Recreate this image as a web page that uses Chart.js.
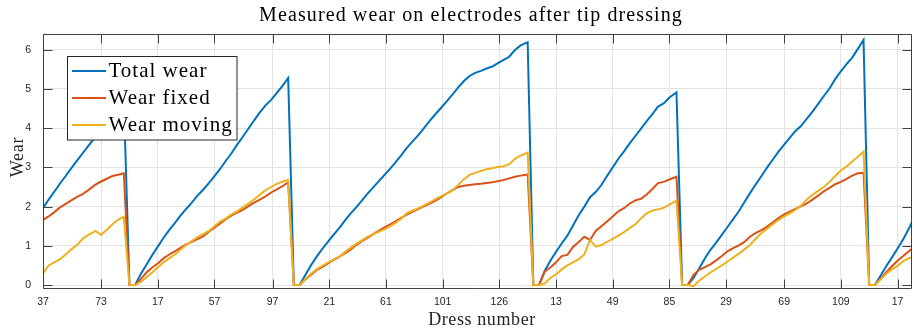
<!DOCTYPE html>
<html>
<head>
<meta charset="utf-8">
<title>Measured wear on electrodes after tip dressing</title>
<script src="https://cdn.jsdelivr.net/npm/chart.js@4/dist/chart.umd.min.js"></script>
<style>
    html, body { margin: 0; padding: 0; background: #fff; }
    #wrap { width: 914px; height: 331px; position: relative; }
</style>
</head>
<body>
<div id="wrap"><canvas id="wearChart"></canvas></div>
<script>
// Position of each sample along the dressing sequence (5 tip dressings + start of a 6th)
const sampleIndex = [
    0, 4, 8, 12, 16, 20, 24, 28, 32, 37, 41, 45, 49, 53, 57, 61,
    65, 69, 73, 77, 81, 85, 89, 93, 97, 101, 105, 109, 113, 117, 121, 125, 129, 133, 137, 141, 145, 149, 153, 157, 161, 165, 169, 173, 177,
    181, 185, 189, 193, 197, 201, 205, 209, 213, 217, 221, 225, 229, 233, 237, 241, 245, 249, 253, 257, 261, 265, 269, 273, 277, 281, 285, 289, 293, 297, 301, 305, 309, 313, 317, 321, 325, 329, 333, 337, 342, 346,
    350, 354, 358, 362, 366, 370, 374, 378, 382, 386, 390, 394, 398, 402, 406, 410, 414, 418, 422, 426, 430, 434, 438, 442, 447, 451,
    455, 459, 463, 467, 471, 475, 479, 483, 487, 491, 495, 499, 503, 507, 511, 515, 519, 523, 527, 531, 535, 539, 543, 547, 551, 555, 559, 563, 567, 571, 575, 579, 583,
    587, 591, 595, 599, 603, 607, 611, 615
];

const totalWear = [
    1.96, 2.18, 2.38, 2.59, 2.78, 2.98, 3.17, 3.36, 3.55, 3.78, 3.98, 4.17, 4.37, 4.56, 4.76, 0,
    0, 0.28, 0.52, 0.76, 0.98, 1.20, 1.40, 1.58, 1.77, 1.94, 2.10, 2.28, 2.43, 2.60, 2.78, 2.96, 3.17, 3.36, 3.58, 3.78, 3.99, 4.20, 4.40, 4.58, 4.72, 4.90, 5.08, 5.28, 0,
    0, 0.25, 0.50, 0.72, 0.92, 1.10, 1.28, 1.45, 1.64, 1.82, 1.98, 2.15, 2.33, 2.49, 2.65, 2.81, 2.97, 3.14, 3.32, 3.51, 3.67, 3.83, 4.01, 4.19, 4.36, 4.52, 4.69, 4.86, 5.04, 5.20, 5.33, 5.41, 5.46, 5.52, 5.57, 5.66, 5.74, 5.82, 5.99, 6.11, 6.19, 0,
    0, 0.36, 0.62, 0.85, 1.06, 1.26, 1.52, 1.78, 2.00, 2.24, 2.37, 2.55, 2.78, 3.00, 3.22, 3.41, 3.61, 3.80, 3.99, 4.18, 4.36, 4.55, 4.63, 4.78, 4.91, 0,
    0, 0.18, 0.42, 0.68, 0.90, 1.08, 1.28, 1.48, 1.68, 1.88, 2.12, 2.35, 2.57, 2.78, 3.00, 3.20, 3.40, 3.58, 3.76, 3.93, 4.06, 4.24, 4.42, 4.62, 4.82, 5.01, 5.25, 5.45, 5.63, 5.80, 6.02, 6.25, 0,
    0, 0.24, 0.48, 0.70, 0.93, 1.17, 1.44, 1.74
];

const wearFixed = [
    1.66, 1.75, 1.86, 1.98, 2.07, 2.16, 2.25, 2.32, 2.42, 2.56, 2.64, 2.71, 2.78, 2.81, 2.85, 0,
    0, 0.15, 0.32, 0.45, 0.55, 0.68, 0.78, 0.86, 0.95, 1.04, 1.10, 1.17, 1.24, 1.36, 1.46, 1.57, 1.68, 1.77, 1.85, 1.92, 2.01, 2.10, 2.18, 2.26, 2.36, 2.44, 2.52, 2.62, 0,
    0, 0.14, 0.26, 0.38, 0.46, 0.55, 0.64, 0.72, 0.81, 0.90, 1.02, 1.12, 1.20, 1.30, 1.39, 1.47, 1.55, 1.63, 1.72, 1.80, 1.87, 1.94, 2.01, 2.08, 2.15, 2.24, 2.34, 2.42, 2.50, 2.53, 2.55, 2.57, 2.58, 2.60, 2.62, 2.65, 2.68, 2.72, 2.76, 2.79, 2.82, 0,
    0, 0.34, 0.45, 0.58, 0.74, 0.77, 0.97, 1.10, 1.23, 1.15, 1.38, 1.50, 1.62, 1.75, 1.88, 1.96, 2.08, 2.16, 2.20, 2.31, 2.45, 2.60, 2.63, 2.69, 2.76, 0,
    0, 0.26, 0.39, 0.46, 0.53, 0.63, 0.74, 0.86, 0.94, 1.01, 1.10, 1.24, 1.33, 1.40, 1.49, 1.60, 1.71, 1.80, 1.87, 1.94, 2.01, 2.08, 2.18, 2.28, 2.39, 2.48, 2.57, 2.63, 2.71, 2.79, 2.85, 2.86, 0,
    0, 0.16, 0.33, 0.48, 0.62, 0.74, 0.86, 0.98
];

const wearMoving = [
    0.30, 0.50, 0.58, 0.66, 0.78, 0.91, 1.02, 1.18, 1.28, 1.38, 1.28, 1.41, 1.55, 1.67, 1.74, 0,
    0, 0.08, 0.20, 0.32, 0.45, 0.58, 0.68, 0.78, 0.90, 1.02, 1.12, 1.22, 1.30, 1.38, 1.50, 1.62, 1.70, 1.80, 1.88, 1.98, 2.08, 2.18, 2.30, 2.42, 2.50, 2.58, 2.64, 2.68, 0,
    0, 0.15, 0.28, 0.40, 0.49, 0.57, 0.65, 0.72, 0.84, 0.95, 1.05, 1.14, 1.23, 1.30, 1.36, 1.42, 1.50, 1.59, 1.70, 1.84, 1.90, 1.96, 2.03, 2.11, 2.19, 2.27, 2.34, 2.42, 2.55, 2.70, 2.81, 2.86, 2.91, 2.95, 2.98, 3.01, 3.03, 3.08, 3.22, 3.30, 3.38, 0,
    0, 0.04, 0.18, 0.27, 0.40, 0.50, 0.58, 0.66, 0.78, 1.15, 0.98, 1.02, 1.10, 1.18, 1.26, 1.35, 1.45, 1.55, 1.70, 1.83, 1.90, 1.93, 1.97, 2.05, 2.15, 0,
    0, -0.03, 0.11, 0.22, 0.32, 0.41, 0.50, 0.60, 0.70, 0.80, 0.91, 1.03, 1.18, 1.33, 1.44, 1.55, 1.66, 1.75, 1.83, 1.92, 2.03, 2.18, 2.30, 2.40, 2.50, 2.63, 2.78, 2.92, 3.02, 3.15, 3.27, 3.40, 0,
    0, 0.14, 0.29, 0.40, 0.49, 0.61, 0.68, 0.73
];

// x ticks: where they sit in the sequence and the dress number shown there
const xTickPos = [0, 41, 81, 121, 162, 202, 242, 282, 322, 362, 402, 442, 482, 523, 563, 603];
const dressTicks = ['37', '73', '17', '57', '97', '21', '61', '101', '126', '13', '49', '85', '29', '69', '109', '17'];
const yTicks = [0, 1, 2, 3, 4, 5, 6];

const seriesNames = ['Total wear', 'Wear fixed', 'Wear moving'];

const axisColor = '#404040';
const gridColor = '#e3e3e3';
const serif = '"Liberation Serif", "Times New Roman", serif';
const sans = '"Liberation Sans", Arial, sans-serif';

function toPoints(values) {
    return sampleIndex.map((x, i) => ({ x: x, y: values[i] }));
}

function drawText(ctx, text, x, y, font, spacing, align, color) {
    ctx.save();
    ctx.font = font;
    ctx.fillStyle = color || '#000';
    ctx.textAlign = align || 'left';
    ctx.textBaseline = 'alphabetic';
    if ('letterSpacing' in ctx) ctx.letterSpacing = spacing + 'px';
    ctx.fillText(text, x, y);
    ctx.restore();
}

// Box, inward tick marks, titles and legend, MATLAB style
const matlabFrame = {
    id: 'matlabFrame',
    beforeDraw(chart) {
        const ctx = chart.ctx;
        ctx.save();
        ctx.fillStyle = '#fff';
        ctx.fillRect(0, 0, chart.width, chart.height);
        ctx.restore();
    },
    afterDatasetsDraw(chart) {
        const ctx = chart.ctx;
        const a = chart.chartArea;
        const xs = chart.scales.x;
        const ys = chart.scales.y;
        const L = Math.round(a.left) + 0.5, R = Math.round(a.right) - 0.5;
        const T = Math.round(a.top) + 0.5, B = Math.round(a.bottom) - 0.5;
        const tickLen = 9;

        ctx.save();
        ctx.strokeStyle = axisColor;
        ctx.lineWidth = 1;
        ctx.beginPath();
        ctx.rect(L, T, R - L, B - T);

        xTickPos.forEach(v => {
            const px = Math.round(xs.getPixelForValue(v)) + 0.5;
            ctx.moveTo(px, B); ctx.lineTo(px, B - tickLen);
            ctx.moveTo(px, T); ctx.lineTo(px, T + tickLen);
        });
        yTicks.forEach(v => {
            const py = Math.round(ys.getPixelForValue(v)) + 0.5;
            ctx.moveTo(L, py); ctx.lineTo(L + tickLen, py);
            ctx.moveTo(R, py); ctx.lineTo(R - tickLen, py);
        });
        ctx.stroke();
        ctx.restore();
    },
    afterDraw(chart) {
        const ctx = chart.ctx;

        drawText(ctx, 'Measured wear on electrodes after tip dressing', 471, 21, '20px ' + serif, 1.1, 'center', '#000');
        drawText(ctx, 'Dress number', 482, 324.5, '18px ' + serif, 0.6, 'center', '#262626');

        ctx.save();
        ctx.translate(23.3, 157);
        ctx.rotate(-Math.PI / 2);
        drawText(ctx, 'Wear', 0, 0, '18px ' + serif, 0.8, 'center', '#262626');
        ctx.restore();

        // legend box, top-left inside the axes
        const box = { x: 67.5, y: 56.5, w: 169.5, h: 83.5 };
        ctx.save();
        ctx.fillStyle = '#fff';
        ctx.fillRect(box.x, box.y, box.w, box.h);
        ctx.strokeStyle = '#262626';
        ctx.lineWidth = 1;
        ctx.strokeRect(box.x, box.y, box.w, box.h);
        ctx.restore();

        chart.data.datasets.forEach((ds, i) => {
            const rowY = 71 + i * 27;
            ctx.save();
            ctx.strokeStyle = ds.borderColor;
            ctx.lineWidth = 2;
            ctx.beginPath();
            ctx.moveTo(72, rowY);
            ctx.lineTo(106, rowY);
            ctx.stroke();
            ctx.restore();
            drawText(ctx, ds.label, 108.5, rowY + 6, '21px ' + serif, 1.0, 'left', '#000');
        });
    }
};

function initWearChart() {
    const canvas = document.getElementById('wearChart');
    const ctx = canvas.getContext('2d');

    new Chart(ctx, {
        type: 'line',
        data: {
            datasets: [
                { label: seriesNames[0], data: toPoints(totalWear), borderColor: '#0072BD', order: 3 },
                { label: seriesNames[1], data: toPoints(wearFixed), borderColor: '#D95319', order: 2 },
                { label: seriesNames[2], data: toPoints(wearMoving), borderColor: '#EDB120', order: 1 }
            ]
        },
        options: {
            responsive: true,
            maintainAspectRatio: false,
            animation: false,
            devicePixelRatio: 1,
            layout: { padding: { top: 34, right: 2, left: 0, bottom: 0 } },
            elements: {
                line: { borderWidth: 2, tension: 0, fill: false },
                point: { radius: 0, hoverRadius: 0 }
            },
            plugins: {
                legend: { display: false },
                title: { display: false },
                tooltip: { enabled: false }
            },
            scales: {
                x: {
                    type: 'linear',
                    min: 0,
                    max: 613.2,
                    afterBuildTicks: scale => { scale.ticks = xTickPos.map(v => ({ value: v })); },
                    afterFit: scale => { scale.height = 42; },
                    grid: { color: gridColor, drawTicks: false },
                    border: { display: false },
                    ticks: {
                        autoSkip: false,
                        maxRotation: 0,
                        padding: 7,
                        color: '#262626',
                        font: { family: sans, size: 10.5 },
                        callback: (value, index) => dressTicks[index]
                    }
                },
                y: {
                    min: -0.1,
                    max: 6.4,
                    afterBuildTicks: scale => { scale.ticks = yTicks.map(v => ({ value: v })); },
                    afterFit: scale => { scale.width = 43; },
                    grid: { color: gridColor, drawTicks: false },
                    border: { display: false },
                    ticks: {
                        padding: 12,
                        color: '#262626',
                        font: { family: sans, size: 10.5 },
                        callback: value => String(value)
                    }
                }
            }
        },
        plugins: [matlabFrame]
    });
}

document.addEventListener('DOMContentLoaded', initWearChart);
</script>
</body>
</html>
